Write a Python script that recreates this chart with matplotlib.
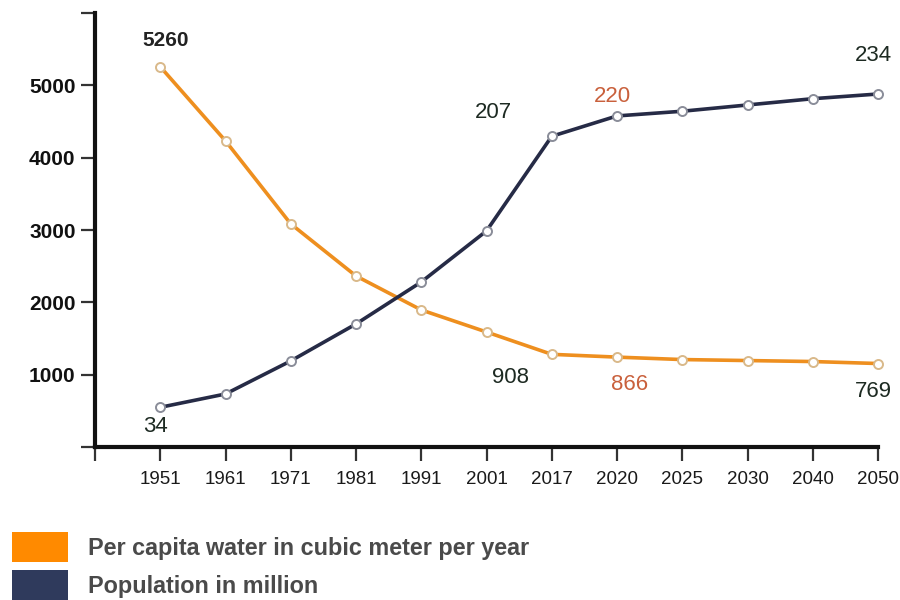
import matplotlib
matplotlib.use("Agg")
import matplotlib.pyplot as plt
from matplotlib import font_manager
from matplotlib.patches import Patch

# ---- data ---------------------------------------------------------------
years = ["1951", "1961", "1971", "1981", "1991", "2001",
         "2017", "2020", "2025", "2030", "2040", "2050"]
water_per_capita = [5260, 4138, 2882, 2094, 1580, 1246,
                    908, 866, 829, 814, 799, 769]          # m3 per person per year
population_million = [34, 42.5, 63.6, 87.2, 114.0, 146.6,
                      207, 220, 223, 227, 231, 234]
base_ticks = [0, 1000, 2000, 3000, 4000, 5000, 6000]
base_tick_labels = ["", "1000", "2000", "3000", "4000", "5000", ""]

# values written next to points: index -> text offset in points
water_labels = {0: (3.6, 19), 6: (-30, -17), 7: (9.4, -20), 11: (-3.6, -20)}
pop_labels = {0: (-3.6, -14), 6: (-42, 17), 7: (-3.6, 14), 11: (-3.6, 28)}
water_label_colors = {0: "#222222", 6: "#1d2a22", 7: "#c9603c", 11: "#1d2a22"}
pop_label_colors = {0: "#1d2a22", 6: "#1d2a22", 7: "#c9603c", 11: "#1d2a22"}

# ---- fonts --------------------------------------------------------------
available = {f.name for f in font_manager.fontManager.ttflist}
narrow = "Liberation Sans Narrow" if "Liberation Sans Narrow" in available else "Liberation Sans"
wide = "Liberation Sans"

orange = "#ee8f1f"
navy = "#262b46"

fig = plt.figure(figsize=(9, 6), dpi=100)
ax = fig.add_axes([95 / 900, 1 - 447 / 600, (878 - 95) / 900, (447 - 13) / 600])

x = list(range(len(years)))
ax.set_xlim(-1, len(years) - 1)
ax.set_ylim(0, 6000)
ax.set_yticks(base_ticks)
ax.set_yticklabels(base_tick_labels)
ax.set_xticks([-1] + x)
ax.set_xticklabels([""] + years)

for side in ("top", "right"):
    ax.spines[side].set_visible(False)
for side in ("left", "bottom"):
    ax.spines[side].set_linewidth(3)
    ax.spines[side].set_color("#111111")
ax.tick_params(axis="both", direction="out", length=10, width=1.6, color="#333333")
ax.tick_params(axis="y", pad=4, labelsize=15)
ax.tick_params(axis="x", pad=7, labelsize=13.5)
for t in ax.get_yticklabels():
    t.set_fontfamily(narrow)
    t.set_fontweight("bold")
    t.set_color("#111111")
for t in ax.get_xticklabels():
    t.set_fontfamily(narrow)
    t.set_color("#1a1a1a")

# each series gets its own hidden value scale on top of the base axis
ax_w = ax.twinx()
ax_p = ax.twinx()
ax_w.set_ylim(-494.2, 6073.3)
ax_p.set_ylim(8.66, 285.71)
for a in (ax_w, ax_p):
    a.axis("off")

ax_w.plot(x, water_per_capita, color=orange, lw=2.6, marker="o", ms=6.5,
          mfc="white", mec="#d9b98a", mew=1.4, clip_on=False, zorder=3)
ax_p.plot(x, population_million, color=navy, lw=2.6, marker="o", ms=6.5,
          mfc="white", mec="#8a8d99", mew=1.4, clip_on=False, zorder=3)

for i, (dx, dy) in water_labels.items():
    bold = i == 0
    ax_w.annotate(f"{water_per_capita[i]:g}", (x[i], water_per_capita[i]),
                  xytext=(dx, dy), textcoords="offset points",
                  ha="center", va="center",
                  fontsize=15 if bold else 16,
                  fontfamily=wide if bold else narrow,
                  fontweight="bold" if bold else "normal",
                  color=water_label_colors[i])
for i, (dx, dy) in pop_labels.items():
    ax_p.annotate(f"{population_million[i]:g}", (x[i], population_million[i]),
                  xytext=(dx, dy), textcoords="offset points",
                  ha="center", va="center", fontsize=16, fontfamily=narrow,
                  color=pop_label_colors[i])

handles = [Patch(facecolor="#ff8a00", edgecolor="none"),
           Patch(facecolor="#2f3a5c", edgecolor="none")]
leg = fig.legend(handles, ["Per capita water in cubic meter per year", "Population in million"],
                 loc="upper left", bbox_to_anchor=(12 / 900, 1 - 532 / 600),
                 frameon=False, borderpad=0, borderaxespad=0,
                 handlelength=2.4, handleheight=1.6, handletextpad=0.87,
                 labelspacing=0.36,
                 prop={"family": narrow, "weight": "bold", "size": 16.8})
for t in leg.get_texts():
    t.set_color("#4a4a4a")

fig.savefig("out.png", dpi=100, facecolor="white")
